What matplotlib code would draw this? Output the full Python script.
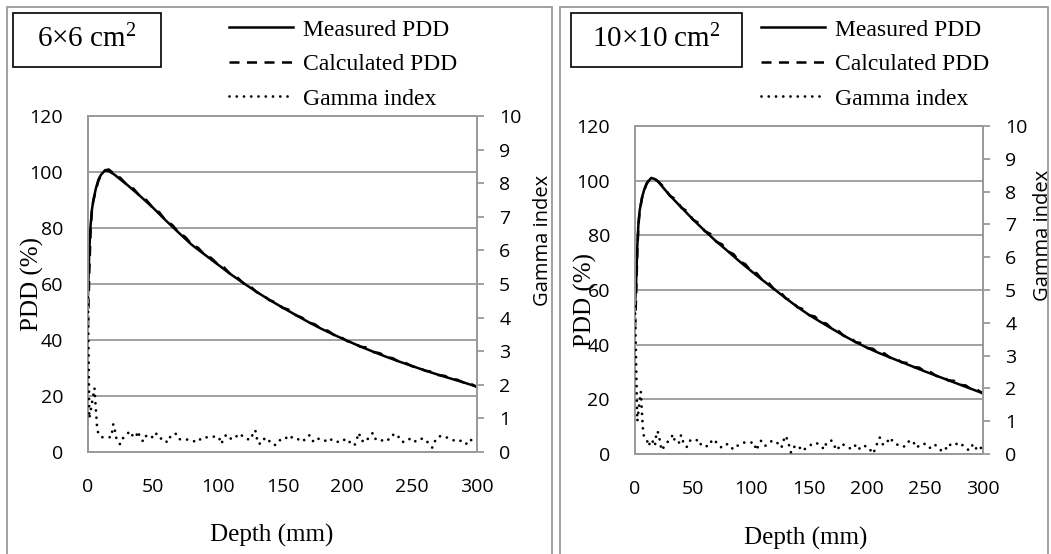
import matplotlib
matplotlib.use("Agg")
import matplotlib.pyplot as plt
from matplotlib.lines import Line2D
from matplotlib.patches import Rectangle

# ---- data ----
meas_depth_6 = [0, 1, 2, 3, 4, 6, 8, 10, 13, 16, 20, 30, 40, 50, 60, 70, 80, 90, 100,
                110, 120, 130, 140, 150, 160, 170, 180, 190, 200, 210, 220, 230, 240,
                250, 260, 270, 280, 290, 300]
meas_pdd_6 = [56, 72, 81, 86.5, 89.5, 94, 97.2, 99, 100.5, 100.3, 99.2, 95.5, 91.5, 87.3,
              82.7, 78.3, 74, 70.5, 67, 63.5, 60.3, 57.2, 54.3, 51.6, 49, 46.4, 44, 41.8,
              39.7, 37.7, 35.8, 34, 32.3, 30.7, 29.1, 27.6, 26.2, 24.8, 23.3]

meas_depth_10 = [0, 1, 2, 3, 4, 6, 8, 10, 14, 17, 20, 30, 40, 50, 60, 70, 80, 90, 100,
                 110, 120, 130, 140, 150, 160, 170, 180, 190, 200, 210, 220, 230, 240,
                 250, 260, 270, 280, 290, 300]
meas_pdd_10 = [54, 63, 76, 84.5, 89, 93.8, 96.8, 99, 101, 100.6, 99.6, 94.6, 90.2, 85.8,
               81.7, 77.8, 74.2, 70.5, 67, 63.6, 60.3, 57, 53.8, 50.9, 48.3, 45.8, 43.3,
               41, 38.9, 37, 35.3, 33.6, 31.9, 30.2, 28.6, 27, 25.4, 23.8, 22.2]

calc_depth = [0, 1, 2, 3, 4, 6, 8, 10, 13, 16, 20, 25, 30, 35, 40, 45, 50, 55, 60, 65,
              70, 75, 80, 85, 90, 95, 100, 105, 110, 115, 120, 125, 130, 135, 140, 145,
              150, 155, 160, 165, 170, 175, 180, 185, 190, 195, 200, 205, 210, 215, 220,
              225, 230, 235, 240, 245, 250, 255, 260, 265, 270, 275, 280, 285, 290, 295, 300]
calc_pdd_6 = [45, 64, 79, 86, 89.5, 93.5, 96.8, 98.9, 100.6, 100.9, 99.4, 97.9, 95.4, 94.1,
              91.4, 90, 87.2, 85.6, 82.6, 81.1, 78.3, 76.8, 74.1, 72.9, 70.4, 69.3, 67.1,
              65.9, 63.4, 62.4, 60.2, 59.3, 57.1, 56, 54.2, 53.4, 51.5, 50.8, 48.9, 48,
              46.3, 45.6, 43.9, 43.3, 41.7, 41, 39.6, 39, 37.6, 37.3, 35.7, 35.3, 33.9,
              33.5, 32.2, 31.8, 30.6, 30.2, 29, 28.7, 27.5, 27.2, 26.1, 25.8, 24.7, 24.4, 23.2]
calc_pdd_10 = [46, 58, 74, 84, 88.5, 93.5, 96.5, 98.8, 100.8, 101, 99.7, 97.6, 94.5, 93.2,
               90.1, 88.8, 85.7, 84.5, 81.6, 80.5, 77.7, 76.7, 74.1, 73.1, 70.4, 69.5, 66.9,
               66.1, 63.5, 62.7, 60.2, 59.4, 56.9, 56.1, 53.7, 53, 50.8, 50.3, 48.2, 47.7,
               45.7, 45.2, 43.2, 42.9, 40.9, 40.6, 38.8, 38.5, 36.9, 36.8, 35.2, 35, 33.5,
               33.3, 31.8, 31.6, 30.1, 29.9, 28.5, 28.4, 26.9, 26.8, 25.3, 25.1, 23.7, 23.5, 22.1]

gamma_depth_6 = [0, 1, 5, 7, 8, 10.5, 14, 18, 19.5, 21, 22, 24.7, 26.7, 30, 32.5, 35, 37,
                 38.5, 40, 42.6, 45, 49, 52, 55, 59, 61, 64, 67.5, 70, 74, 79, 84, 88, 93,
                 98, 101, 102.7, 104.5, 106.6, 111, 114, 117, 120, 123, 126, 127, 129, 130,
                 131, 134, 136.5, 140, 144, 147, 151, 155, 159, 162, 166, 168, 171, 173,
                 175, 178, 182, 185, 188, 191.6, 195, 199, 202, 205.5, 208, 209, 210.5,
                 214, 217, 219.7, 222, 226, 230, 232, 236, 238.7, 241, 244, 249, 251, 254,
                 258, 262, 265.5, 268.5, 272, 275, 278, 281, 285, 289, 292.6, 295, 298]
gamma_6 = [4.6, 1.0, 1.9, 0.73, 0.54, 0.44, 0.44, 0.44, 0.83, 0.6, 0.38, 0.23, 0.4, 0.53,
           0.62, 0.44, 0.45, 0.62, 0.44, 0.31, 0.49, 0.42, 0.58, 0.4, 0.4, 0.28, 0.49, 0.55,
           0.38, 0.38, 0.36, 0.29, 0.43, 0.44, 0.46, 0.44, 0.24, 0.38, 0.52, 0.37, 0.45,
           0.55, 0.44, 0.38, 0.38, 0.55, 0.65, 0.46, 0.25, 0.25, 0.43, 0.32, 0.2, 0.35,
           0.35, 0.5, 0.38, 0.38, 0.31, 0.44, 0.5, 0.34, 0.29, 0.4, 0.36, 0.29, 0.38, 0.31,
           0.29, 0.4, 0.29, 0.19, 0.46, 0.57, 0.35, 0.29, 0.46, 0.57, 0.37, 0.33, 0.41,
           0.36, 0.54, 0.51, 0.33, 0.29, 0.41, 0.33, 0.31, 0.41, 0.29, 0.13, 0.4, 0.48,
           0.46, 0.41, 0.36, 0.31, 0.35, 0.22, 0.33, 0.48]

gamma_depth_10 = [0, 2, 5, 6.5, 7.2, 10, 11.5, 14.4, 17.2, 17.8, 19.3, 20.7, 21.6, 23,
                  26.4, 30.2, 33, 34.5, 38, 39.7, 41.7, 44.5, 47.4, 50.9, 54.6, 57.5, 60.3,
                  63.8, 66.7, 70.4, 74.7, 79.9, 84.8, 89, 94.3, 100, 102.9, 104.3, 106.3,
                  108.6, 112, 116.4, 119.3, 122, 125.9, 127.9, 128.7, 130.8, 132.2, 134.5,
                  137.4, 140.2, 144.3, 147, 149.4, 155.7, 159.5, 163.2, 165, 169.5, 173.9,
                  178, 182.5, 186.8, 191, 194, 198.3, 201, 205, 207, 209, 211, 214, 217,
                  220, 222.7, 227, 230, 233.6, 236.5, 239.4, 242.8, 246.3, 251.4, 254.3,
                  258, 261.5, 264.4, 267, 270, 273.9, 276.7, 280, 284.5, 288.2, 291.6,
                  294.6, 297.4, 300]
gamma_10 = [4.5, 1.0, 1.9, 0.95, 0.58, 0.48, 0.24, 0.44, 0.24, 0.48, 0.7, 0.58, 0.35,
            0.11, 0.3, 0.45, 0.6, 0.35, 0.35, 0.58, 0.35, 0.21, 0.41, 0.37, 0.45, 0.24,
            0.24, 0.24, 0.45, 0.35, 0.19, 0.31, 0.14, 0.27, 0.35, 0.35, 0.35, 0.11, 0.24,
            0.4, 0.24, 0.37, 0.41, 0.37, 0.19, 0.31, 0.55, 0.48, 0.35, 0.04, 0.22, 0.27,
            0.09, 0.17, 0.24, 0.35, 0.27, 0.14, 0.35, 0.41, 0.11, 0.31, 0.24, 0.14, 0.3,
            0.14, 0.24, 0.22, 0.01, 0.14, 0.35, 0.5, 0.27, 0.35, 0.5, 0.35, 0.27, 0.22,
            0.24, 0.41, 0.4, 0.19, 0.3, 0.31, 0.19, 0.3, 0.19, 0.09, 0.09, 0.31, 0.24,
            0.3, 0.35, 0.19, 0.11, 0.31, 0.14, 0.11, 0.37]

x_ticks = [0, 50, 100, 150, 200, 250, 300]
pdd_ticks = [0, 20, 40, 60, 80, 100, 120]
gamma_ticks = list(range(0, 11))
field_labels = ["6×6 cm$^{2}$", "10×10 cm$^{2}$"]
legend_labels = ["Measured PDD", "Calculated PDD", "Gamma index"]

# ---- styling ----
W, H = 1051, 554
SERIF = "Liberation Serif"
SANS = "Open Sans"
GRID = "#9a9a9a"
dash_style = (0, (4.0, 3.0))
dot_style = (0, (0.01, 2.6))

plt.rcParams["mathtext.fontset"] = "custom"
plt.rcParams["mathtext.rm"] = SERIF
plt.rcParams["mathtext.it"] = SERIF

fig = plt.figure(figsize=(W / 100, H / 100), dpi=100)


def fx(px):
    return px / W


def fy(py):
    return 1 - py / H


panels = [
    dict(ax_box=(88, 116, 477, 452), frame=(7, 7, 552, 560), lbl_box=(13, 13, 161, 67),
         leg_x=229, depth_lbl=(272, 535), pdd_lbl=(-0.113, 0.5), gam_lbl=(1.144, 0.63),
         meas=(meas_depth_6, meas_pdd_6), calc=calc_pdd_6,
         gam=(gamma_depth_6, gamma_6), field=field_labels[0]),
    dict(ax_box=(635, 126, 983, 454), frame=(560, 7, 1048, 560), lbl_box=(571, 13, 742, 67),
         leg_x=761, depth_lbl=(806, 538), pdd_lbl=(-0.109, 0.47), gam_lbl=(1.144, 0.665),
         meas=(meas_depth_10, meas_pdd_10), calc=calc_pdd_10,
         gam=(gamma_depth_10, gamma_10), field=field_labels[1]),
]

for p in panels:
    # outer grey frame of each panel
    x0, y0, x1, y1 = p["frame"]
    fig.patches.append(Rectangle((fx(x0), fy(y1)), fx(x1 - x0), (y1 - y0) / H,
                                 transform=fig.transFigure, fill=False,
                                 edgecolor="#9a9a9a", lw=1.3))

    l, t, r, b = p["ax_box"]
    ax = fig.add_axes([fx(l), fy(b), fx(r - l), (b - t) / H])
    ax2 = ax.twinx()

    d, v = p["meas"]
    ax.plot(d, v, color="black", lw=1.8, zorder=3)
    ax.plot(calc_depth, p["calc"], color="black", lw=1.8, linestyle=dash_style, zorder=3)
    gd, gv = p["gam"]
    ax2.plot(gd, gv, color="black", lw=2.0, linestyle=dot_style,
             dash_capstyle="round", zorder=3)

    ax.set_xlim(0, 300)
    ax.set_ylim(0, 120)
    ax2.set_ylim(0, 10)
    ax.set_xticks(x_ticks)
    ax.set_yticks(pdd_ticks)
    ax2.set_yticks(gamma_ticks)
    ax.grid(axis="y", color=GRID, lw=1.3)
    ax.set_axisbelow(True)

    for a in (ax, ax2):
        for s in a.spines.values():
            s.set_color(GRID)
            s.set_linewidth(1.3)
    ax.tick_params(axis="both", length=0, labelsize=14, pad=18)
    ax.tick_params(axis="x", pad=19)
    ax2.tick_params(axis="y", length=5, width=1.3, color=GRID, direction="out",
                    labelsize=14, pad=11)
    for lab in ax.get_xticklabels() + ax.get_yticklabels() + ax2.get_yticklabels():
        lab.set_fontfamily(SANS)

    ax.set_ylabel("PDD (%)", fontsize=18, fontfamily=SERIF)
    ax.yaxis.set_label_coords(*p["pdd_lbl"])
    ax2.set_ylabel("Gamma index", fontsize=14.5, fontfamily=SANS)
    ax2.yaxis.set_label_coords(*p["gam_lbl"])

    fig.text(fx(p["depth_lbl"][0]), fy(p["depth_lbl"][1]), "Depth (mm)", fontsize=18,
             fontfamily=SERIF, ha="center", va="center")

    # field size box
    bx0, by0, bx1, by1 = p["lbl_box"]
    fig.patches.append(Rectangle((fx(bx0), fy(by1)), fx(bx1 - bx0), (by1 - by0) / H,
                                 transform=fig.transFigure, fill=False,
                                 edgecolor="black", lw=1.2))
    fig.text(fx((bx0 + bx1) / 2), fy((by0 + by1) / 2 - 1), p["field"], fontsize=21,
             fontfamily=SERIF, ha="center", va="center")

    handles = [
        Line2D([], [], color="black", lw=1.8),
        Line2D([], [], color="black", lw=1.8, linestyle=dash_style),
        Line2D([], [], color="black", lw=2.0, linestyle=dot_style, dash_capstyle="round"),
    ]
    fig.legend(handles, legend_labels, loc="upper left",
               bbox_to_anchor=(fx(p["leg_x"]), fy(19)), bbox_transform=fig.transFigure,
               frameon=False, prop={"family": SERIF, "size": 17}, handlelength=2.7,
               handletextpad=0.45, labelspacing=0.55, borderpad=0, borderaxespad=0)

fig.savefig("out.png", dpi=100)
